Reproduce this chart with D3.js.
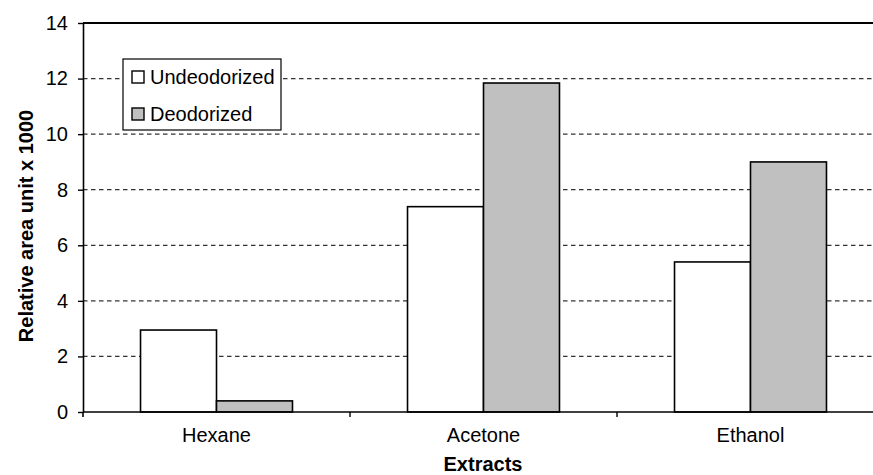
<!DOCTYPE html>
<html>
<head>
<meta charset="utf-8">
<script src="https://cdn.jsdelivr.net/npm/d3@7"></script>
<style>
  html, body { margin: 0; padding: 0; background: #fff; }
  svg { display: block; font-family: "Liberation Sans", Arial, sans-serif; }
</style>
</head>
<body>
<svg id="chart" width="873" height="475"></svg>
<script>
// Extract categories and the two series (relative area unit x 1000)
const categories = ["Hexane", "Acetone", "Ethanol"];
const seriesNames = ["Undeodorized", "Deodorized"];
const undeodorized = [2.95, 7.39, 5.40];
const deodorized = [0.40, 11.84, 9.00];
const yTicks = [0, 2, 4, 6, 8, 10, 12, 14];
const seriesColors = ["#ffffff", "#c0c0c0"];

const svg = d3.select("#chart");
const plotLeft = 83, plotRight = 884, plotTop = 23, plotBottom = 412;
const fontSize = 20;

const x0 = d3.scaleBand().domain(categories).range([plotLeft, plotRight]).padding(0);
const x1 = d3.scaleBand().domain(seriesNames).range([0, x0.bandwidth()])
  .paddingInner(0).paddingOuter(0.757);
const y = d3.scaleLinear().domain([0, 14]).range([plotBottom, plotTop]);

// Dashed horizontal gridlines
svg.append("g").selectAll("line")
  .data(yTicks.filter(d => d > 0 && d < 14))
  .join("line")
  .attr("x1", plotLeft).attr("x2", 873)
  .attr("y1", d => y(d)).attr("y2", d => y(d))
  .attr("stroke", "#333").attr("stroke-width", 1.3)
  .attr("stroke-dasharray", "4.5,3.5");

// Solid top border at the maximum value
svg.append("line")
  .attr("x1", plotLeft).attr("x2", 873)
  .attr("y1", y(14)).attr("y2", y(14))
  .attr("stroke", "#000").attr("stroke-width", 2);

// Bars
const rows = categories.map((c, i) => ({ cat: c, values: [undeodorized[i], deodorized[i]] }));
const groups = svg.append("g").selectAll("g")
  .data(rows).join("g")
  .attr("transform", d => `translate(${x0(d.cat)},0)`);
groups.selectAll("rect")
  .data(d => d.values.map((v, j) => ({ s: seriesNames[j], v, j })))
  .join("rect")
  .attr("x", d => x1(d.s))
  .attr("width", x1.bandwidth())
  .attr("y", d => y(d.v))
  .attr("height", d => y(0) - y(d.v))
  .attr("fill", d => seriesColors[d.j])
  .attr("stroke", "#000").attr("stroke-width", 1.6);

// Y axis
const yAxis = svg.append("g")
  .attr("transform", `translate(${plotLeft},0)`)
  .call(d3.axisLeft(y).tickValues(yTicks).tickSize(5).tickPadding(10).tickSizeOuter(0));
yAxis.select(".domain").attr("stroke-width", 1.6);
yAxis.selectAll(".tick line").attr("stroke-width", 1.4);
yAxis.selectAll("text").attr("font-size", fontSize).attr("fill", "#000")
  .attr("font-family", "Liberation Sans, Arial, sans-serif");
// short extension of the y axis below zero
svg.append("line").attr("x1", plotLeft).attr("x2", plotLeft)
  .attr("y1", plotBottom).attr("y2", plotBottom + 5)
  .attr("stroke", "#000").attr("stroke-width", 1.6);

// X axis baseline and category separators
svg.append("line").attr("x1", plotLeft).attr("x2", 873)
  .attr("y1", plotBottom).attr("y2", plotBottom)
  .attr("stroke", "#000").attr("stroke-width", 1.6);
svg.append("g").selectAll("line")
  .data(categories.slice(1))
  .join("line")
  .attr("x1", d => x0(d)).attr("x2", d => x0(d))
  .attr("y1", plotBottom).attr("y2", plotBottom + 5)
  .attr("stroke", "#000").attr("stroke-width", 1.4);

const xAxis = svg.append("g")
  .attr("transform", `translate(0,${plotBottom})`)
  .call(d3.axisBottom(x0).tickSize(0).tickPadding(16));
xAxis.select(".domain").remove();
xAxis.selectAll("text").attr("font-size", fontSize).attr("fill", "#000")
  .attr("font-family", "Liberation Sans, Arial, sans-serif");

// Axis titles
svg.append("text")
  .attr("x", 483).attr("y", 471)
  .attr("text-anchor", "middle")
  .attr("font-size", fontSize).attr("font-weight", "bold")
  .text("Extracts");
svg.append("text")
  .attr("transform", "translate(33,226) rotate(-90)")
  .attr("text-anchor", "middle")
  .attr("font-size", fontSize).attr("font-weight", "bold")
  .text("Relative area unit x 1000");

// Legend
const legend = svg.append("g");
legend.append("rect")
  .attr("x", 123).attr("y", 59).attr("width", 158).attr("height", 71)
  .attr("fill", "#fff").attr("stroke", "#000").attr("stroke-width", 1.2);
seriesNames.forEach((name, i) => {
  const cy = 77 + i * 37;
  legend.append("rect")
    .attr("x", 132).attr("y", cy - 6).attr("width", 12).attr("height", 12)
    .attr("fill", seriesColors[i]).attr("stroke", "#000").attr("stroke-width", 1.4);
  legend.append("text")
    .attr("x", 150).attr("y", cy + 7)
    .attr("font-size", fontSize)
    .text(name);
});
</script>
</body>
</html>
